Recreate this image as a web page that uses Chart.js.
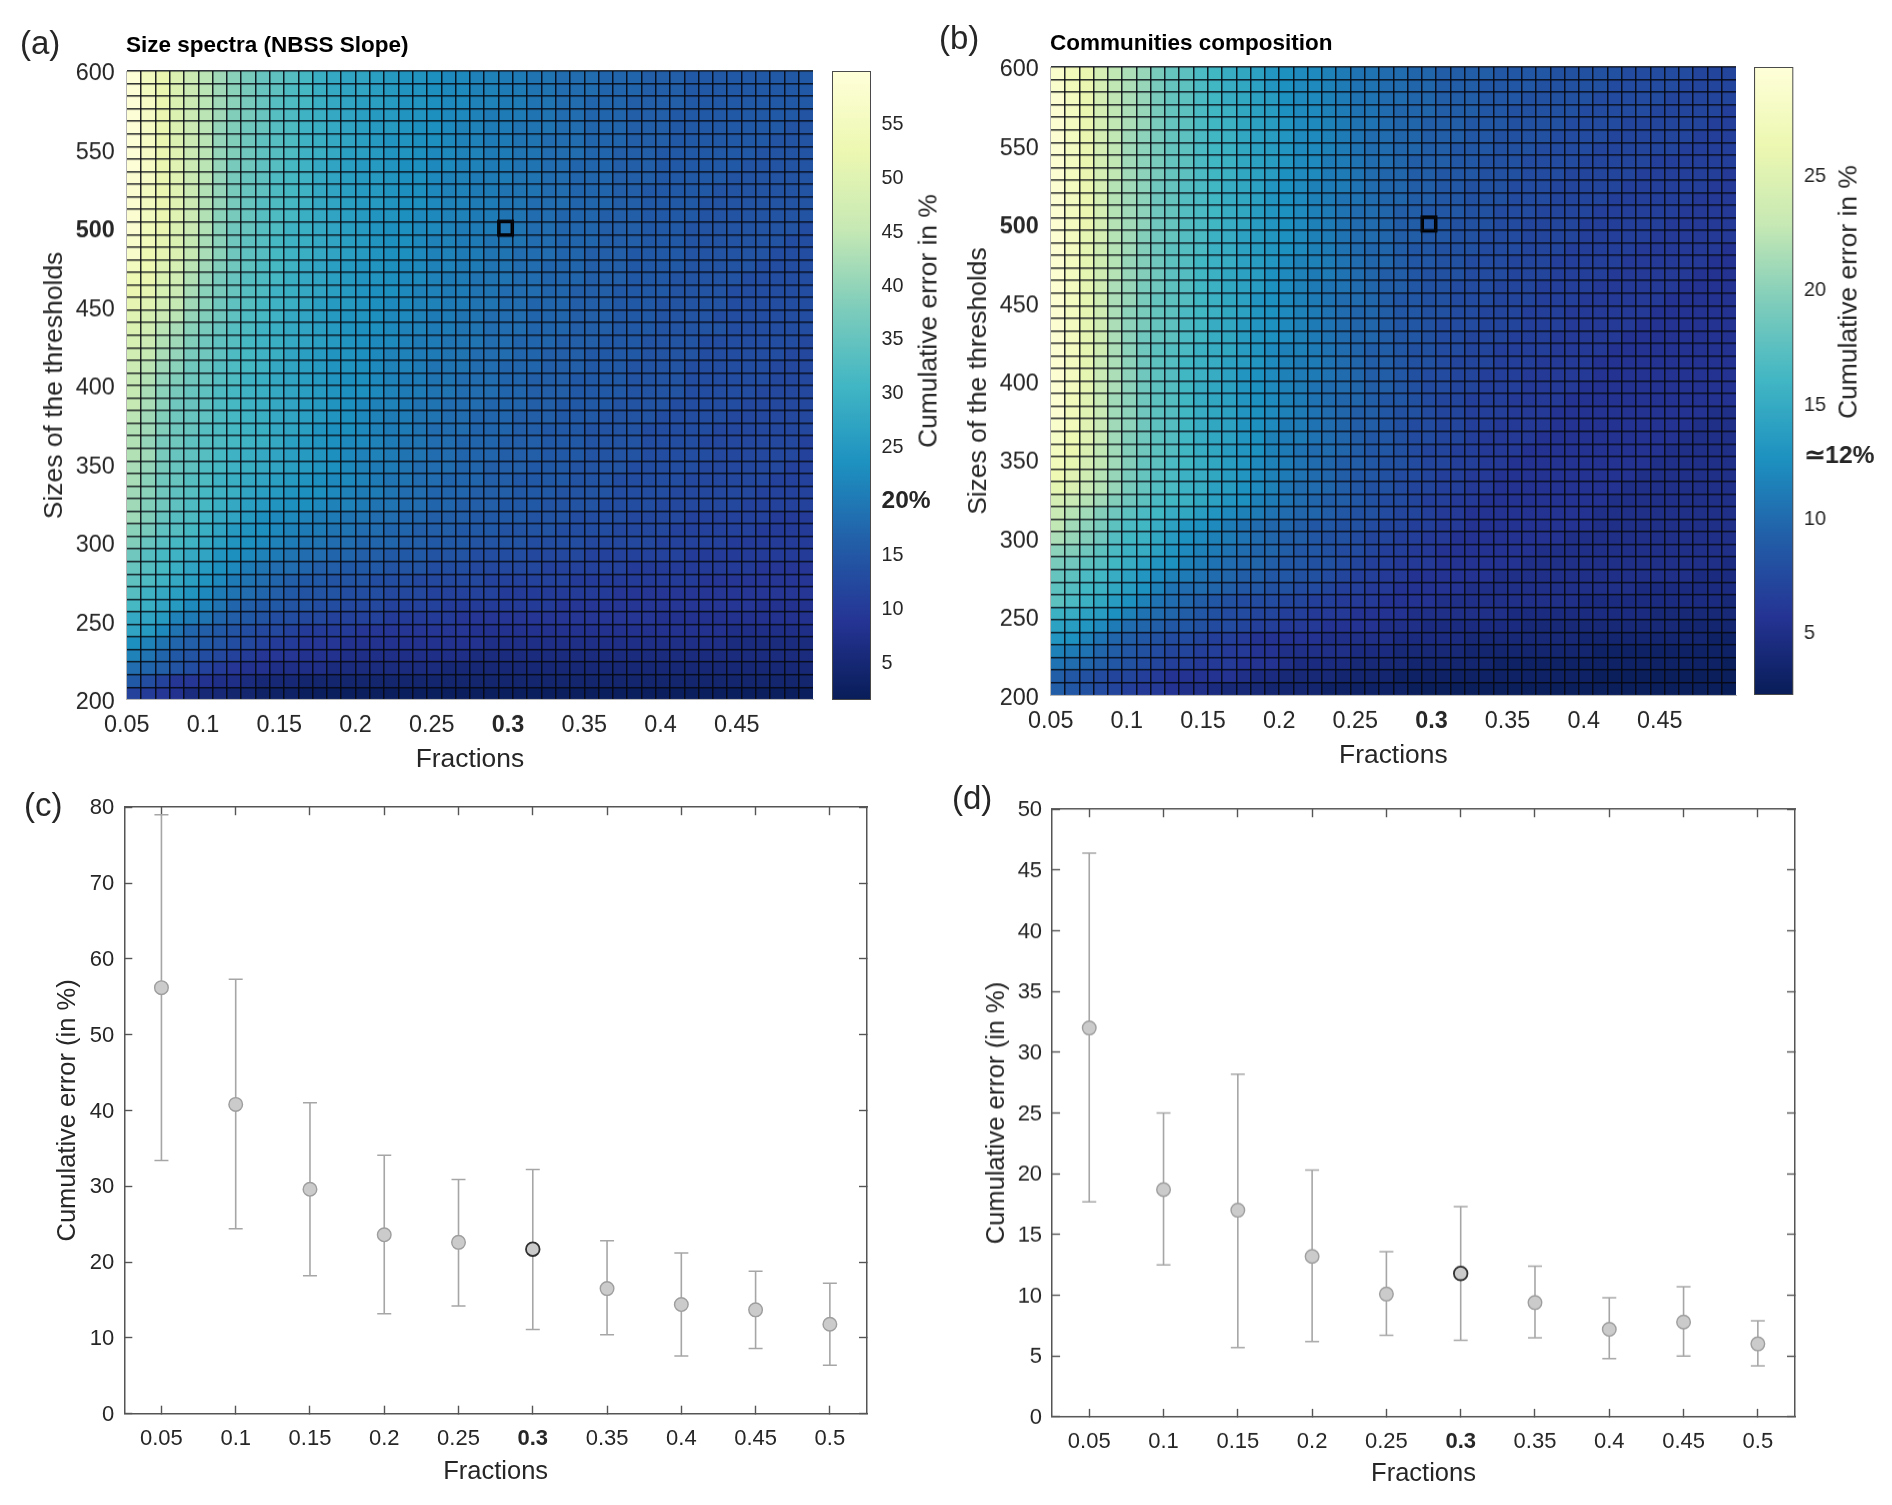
<!DOCTYPE html>
<html>
<head>
<meta charset="utf-8">
<script src="https://cdn.jsdelivr.net/npm/chart.js@4/dist/chart.umd.min.js"></script>
<style>
body { margin: 0; background: #fff; width: 1892px; height: 1505px; position: relative; overflow: hidden; font-family: "Liberation Sans", sans-serif; color: #262626; }
canvas { position: absolute; }
.txt { position: absolute; white-space: nowrap; transform: translate(0, -50%); }
.rot { position: absolute; white-space: nowrap; transform: translate(-50%, -50%) rotate(-90deg); }
</style>
</head>
<body>
<canvas id="heatA"></canvas><canvas id="barA"></canvas>
<canvas id="heatB"></canvas><canvas id="barB"></canvas>
<canvas id="errC"></canvas><canvas id="errD"></canvas>
<script>
// cumulative error in %, one row per threshold cell, top row (600) first
const heatRowsA = [
[59,55,52,49,46,44,41,39, 37,35,34,33,31,29,28,27, 27,26,25,24,24,23,22,22, 21,21,20,20,19,19,18,18, 18,17,17,17,16,16,16,15, 15,15,15,15,15,15,15,15],
[59,55,52,49,46,44,41,39, 37,35,34,32,31,29,28,27, 27,26,25,24,24,23,22,22, 21,21,20,20,19,19,18,18, 18,17,17,17,16,16,16,15, 15,15,15,15,15,15,15,15],
[59,56,52,49,46,44,41,39, 37,35,33,32,31,29,28,27, 26,26,25,24,24,23,22,22, 21,21,20,20,19,19,18,18, 17,17,17,16,16,16,16,15, 15,15,15,15,15,15,15,15],
[59,56,52,49,46,44,41,38, 37,35,33,32,30,29,28,27, 26,25,25,24,24,23,22,22, 21,20,20,20,19,19,18,18, 17,17,17,16,16,16,15,15, 15,15,15,15,15,15,15,14],
[59,56,52,49,46,44,40,38, 36,35,33,32,30,29,28,27, 26,25,25,24,23,23,22,21, 21,20,20,19,19,19,18,18, 17,17,17,16,16,16,15,15, 15,15,15,15,15,15,14,14],
[59,56,52,49,46,44,40,38, 36,34,33,32,30,29,28,27, 26,25,24,24,23,23,22,21, 21,20,20,19,19,18,18,18, 17,17,17,16,16,16,15,15, 15,15,15,15,15,14,14,14],
[59,56,52,50,46,44,40,38, 36,34,33,32,30,29,28,26, 26,25,24,24,23,22,22,21, 21,20,20,19,19,18,18,18, 17,17,16,16,16,15,15,15, 15,15,15,15,14,14,14,14],
[59,56,52,50,46,44,40,37, 36,34,33,31,30,28,27,26, 25,25,24,23,23,22,22,21, 21,20,20,19,19,18,18,17, 17,17,16,16,16,15,15,15, 15,15,15,14,14,14,14,14],
[58,56,52,50,46,44,40,37, 35,34,32,31,30,28,27,26, 25,25,24,23,23,22,21,21, 20,20,20,19,19,18,18,17, 17,17,16,16,16,15,15,15, 15,15,14,14,14,14,14,14],
[58,55,52,50,46,43,40,37, 35,34,32,31,30,28,27,26, 25,25,24,23,23,22,21,21, 20,20,19,19,19,18,18,17, 17,17,16,16,15,15,15,15, 15,14,14,14,14,14,14,14],
[58,55,52,50,46,43,40,37, 35,33,32,31,30,28,27,26, 25,25,24,23,23,22,21,21, 20,20,19,19,18,18,18,17, 17,17,16,16,15,15,15,15, 14,14,14,14,14,14,14,14],
[58,55,52,50,46,43,39,37, 35,33,32,31,29,28,27,26, 25,24,24,23,22,22,21,21, 20,20,19,19,18,18,17,17, 17,16,16,16,15,15,15,15, 14,14,14,14,14,14,14,14],
[58,54,52,49,46,43,39,36, 35,33,32,30,29,28,27,26, 25,24,23,23,22,22,21,20, 20,20,19,19,18,18,17,17, 17,16,16,16,15,15,15,14, 14,14,14,14,14,14,14,13],
[57,54,51,49,45,42,39,36, 34,33,31,30,29,28,27,26, 25,24,23,23,22,21,21,20, 20,19,19,19,18,18,17,17, 17,16,16,16,15,15,15,14, 14,14,14,14,14,14,13,13],
[57,53,51,49,45,42,39,36, 34,33,31,30,29,28,27,26, 25,24,23,23,22,21,21,20, 20,19,19,18,18,18,17,17, 16,16,16,15,15,15,15,14, 14,14,14,14,14,13,13,13],
[55,53,50,48,44,41,38,36, 34,32,31,30,28,27,26,25, 24,24,23,22,22,21,21,20, 20,19,19,18,18,17,17,17, 16,16,16,15,15,15,15,14, 14,14,14,14,13,13,13,13],
[53,52,49,47,43,40,37,35, 33,32,31,29,28,27,26,25, 24,24,23,22,22,21,20,20, 19,19,19,18,18,17,17,17, 16,16,16,15,15,15,14,14, 14,14,14,13,13,13,13,13],
[52,51,48,46,42,39,37,35, 33,32,30,29,28,27,26,25, 24,23,23,22,21,21,20,20, 19,19,18,18,18,17,17,16, 16,16,15,15,15,15,14,14, 14,14,13,13,13,13,13,13],
[51,50,47,45,41,39,36,34, 33,31,30,29,28,26,25,25, 24,23,22,22,21,21,20,20, 19,19,18,18,17,17,17,16, 16,16,15,15,15,14,14,14, 14,14,13,13,13,13,13,13],
[50,48,46,44,40,38,36,34, 32,31,30,28,27,26,25,24, 24,23,22,22,21,20,20,19, 19,18,18,18,17,17,17,16, 16,16,15,15,15,14,14,14, 14,13,13,13,13,13,13,13],
[49,47,44,42,39,37,35,33, 32,30,29,28,27,26,25,24, 23,23,22,21,21,20,20,19, 19,18,18,18,17,17,17,16, 16,16,15,15,15,14,14,14, 14,14,13,13,13,13,13,13],
[48,46,43,41,38,36,34,33, 31,30,29,28,27,26,25,24, 23,22,22,21,20,20,19,19, 19,18,18,17,17,17,16,16, 16,15,15,15,14,14,14,14, 13,13,13,13,13,13,13,12],
[47,45,42,40,37,36,34,32, 31,30,29,27,26,25,24,24, 23,22,21,21,20,20,19,19, 18,18,18,17,17,16,16,16, 15,15,15,15,14,14,14,14, 13,13,13,13,13,13,12,12],
[46,44,41,39,36,35,33,32, 31,30,28,27,26,25,24,24, 23,22,21,21,20,19,19,19, 18,18,17,17,17,16,16,16, 15,15,15,14,14,14,14,13, 13,13,13,13,13,12,12,12],
[45,43,40,38,36,35,33,32, 30,29,28,27,26,25,24,23, 23,22,21,20,20,19,19,18, 18,18,17,17,16,16,16,15, 15,15,15,14,14,14,14,13, 13,13,13,13,13,12,12,12],
[45,42,39,37,35,34,32,31, 30,29,28,27,26,25,24,23, 23,22,21,20,20,19,19,18, 18,18,17,17,16,16,16,15, 15,15,15,14,14,14,14,13, 13,13,13,13,12,12,12,12],
[45,42,39,36,35,34,32,31, 30,29,28,27,26,25,24,23, 22,21,21,20,19,19,18,18, 18,17,17,17,16,16,15,15, 15,15,14,14,14,14,13,13, 13,13,13,12,12,12,12,12],
[44,41,38,36,35,34,32,31, 30,29,28,27,26,25,24,23, 22,21,20,20,19,19,18,18, 17,17,17,16,16,16,15,15, 15,14,14,14,14,13,13,13, 13,13,12,12,12,12,12,12],
[43,41,38,36,35,33,32,31, 30,29,28,27,26,24,23,23, 22,21,20,20,19,18,18,18, 17,17,17,16,16,15,15,15, 14,14,14,14,13,13,13,13, 13,12,12,12,12,12,12,12],
[43,40,37,36,34,33,32,31, 30,29,28,26,25,24,23,22, 22,21,20,19,19,18,18,17, 17,17,16,16,16,15,15,15, 14,14,14,14,13,13,13,13, 12,12,12,12,12,12,12,11],
[43,41,37,35,34,33,31,30, 29,28,27,26,25,24,23,22, 21,21,20,19,19,18,18,17, 17,17,16,16,16,15,15,15, 14,14,14,14,13,13,13,13, 13,12,12,12,12,12,12,11],
[42,40,37,35,34,32,31,30, 29,28,27,26,25,24,23,22, 21,20,20,19,18,18,18,17, 17,16,16,16,15,15,15,14, 14,14,14,13,13,13,13,13, 12,12,12,12,12,12,11,11],
[42,39,36,35,33,32,30,29, 28,27,26,25,24,23,22,22, 21,20,19,19,18,18,17,17, 17,16,16,15,15,15,15,14, 14,14,13,13,13,13,13,12, 12,12,12,12,12,11,11,11],
[41,39,36,34,33,31,30,29, 27,26,25,24,23,23,22,21, 20,20,19,18,18,17,17,17, 16,16,16,15,15,15,14,14, 14,14,13,13,13,13,12,12, 12,12,12,12,11,11,11,11],
[41,38,36,34,32,31,29,28, 26,25,24,23,23,22,21,21, 20,19,19,18,18,17,17,16, 16,16,15,15,15,14,14,14, 14,13,13,13,13,12,12,12, 12,12,12,11,11,11,11,11],
[41,38,35,33,32,30,28,27, 25,23,22,22,21,20,20,19, 19,18,18,17,17,16,16,16, 15,15,15,15,14,14,14,13, 13,13,13,12,12,12,12,11, 11,11,11,11,11,10,10,10],
[39,37,34,33,31,29,27,25, 24,23,22,21,20,20,19,19, 18,18,17,17,16,16,16,15, 15,15,14,14,14,14,13,13, 13,13,12,12,12,12,11,11, 11,11,11,11,10,10,10,10],
[38,35,33,31,30,28,26,24, 23,22,21,20,19,19,18,18, 17,17,17,16,16,15,15,15, 14,14,14,14,13,13,13,13, 12,12,12,12,12,11,11,11, 11,11,10,10,10,10,10,10],
[36,33,31,30,28,27,24,23, 22,21,20,19,18,18,17,17, 16,16,15,15,15,14,14,14, 13,13,13,13,12,12,12,12, 11,11,11,11,11,11,11,10, 10,10,10,10,10,10,10,10],
[35,33,31,29,27,25,23,22, 20,19,18,18,17,16,16,15, 15,15,14,14,14,13,13,13, 12,12,12,12,12,11,11,11, 11,11,11,10,10,10,10,10, 10,10,10,10,9,9,9,9],
[34,32,30,28,26,24,22,20, 19,18,17,16,15,15,14,14, 14,13,13,13,12,12,12,12, 12,11,11,11,11,11,11,10, 10,10,10,10,10,10,10,10, 9,9,9,9,9,9,9,9],
[33,30,28,26,24,22,20,19, 18,17,16,15,14,14,14,13, 13,13,12,12,12,11,11,11, 11,11,10,10,10,10,10,10, 10,10,9,9,9,9,9,9, 9,9,9,9,9,9,9,9],
[31,29,27,25,22,21,19,17, 16,15,15,14,14,13,13,12, 12,12,11,11,11,11,10,10, 10,10,10,10,10,10,9,9, 9,9,9,9,9,9,9,9, 9,9,9,9,8,8,8,8],
[28,27,25,21,20,19,17,16, 15,14,13,13,12,12,11,11, 11,11,10,10,10,10,10,9, 9,9,9,9,9,9,9,9, 9,9,9,9,9,8,8,8, 8,8,8,8,8,8,8,8],
[27,25,22,19,17,16,15,14, 13,12,12,11,10,10,10,10, 9,9,9,9,9,9,9,9, 8,8,8,8,8,8,8,8, 8,8,8,8,8,8,8,8, 8,8,7,7,7,7,7,7],
[23,21,19,17,16,15,14,13, 12,11,10,10,9,9,9,8, 8,8,8,8,8,8,8,8, 8,7,7,7,7,7,7,7, 7,7,7,7,7,7,7,7, 7,7,6,6,6,6,6,6],
[21,19,17,15,14,13,12,11, 10,9,9,9,8,8,8,7, 7,7,7,7,7,7,7,7, 6,6,6,6,6,6,6,6, 6,6,6,6,6,6,6,6, 6,6,6,6,6,6,6,6],
[18,17,16,14,13,11,10,9, 8,8,7,7,7,7,6,6, 6,6,6,6,6,6,5,5, 5,5,5,5,5,5,5,5, 5,5,5,5,5,5,5,5, 5,5,5,5,5,5,5,5],
[15,13,11,9,9,8,7,7, 6,5,5,5,4,4,4,4, 4,4,4,4,4,4,4,4, 4,4,4,4,4,4,4,4, 4,4,4,4,4,4,4,4, 4,4,4,4,4,4,4,4],
[11,10,9,8,6,5,5,4, 4,3,3,3,2,2,2,2, 2,2,2,2,2,2,2,2, 2,2,2,2,2,2,2,2, 2,2,2,2,2,2,2,2, 2,2,2,2,2,2,2,2]
];
const heatRowsB = [
[28.5,27,26,24,22.5,21.5,20.5,19, 18,17.5,16.5,16,15,14.5,14,13, 12.5,12,12,11.5,11,10.5,10.5,10, 10,9.5,9.5,9,9,9,9,8.5, 8.5,8.5,8.5,8,8,8,8,8, 7.5,7.5,7.5,7.5,7.5,7,7,7],
[28.5,27,26,24,22.5,21.5,20.5,19, 18,17.5,16.5,16,15,14.5,14,13, 12.5,12,12,11.5,11,10.5,10.5,10, 10,9.5,9.5,9,9,9,8.5,8.5, 8.5,8.5,8,8,8,8,8,7.5, 7.5,7.5,7.5,7.5,7,7,7,7],
[29,27.5,26,24,22.5,21.5,20.5,19, 18,17.5,16.5,16,15,14.5,14,13.5, 12.5,12,12,11.5,11,10.5,10.5,10, 10,9.5,9.5,9,9,9,8.5,8.5, 8.5,8,8,8,8,8,7.5,7.5, 7.5,7.5,7.5,7,7,7,7,7],
[29,27.5,26,24,22.5,21.5,20.5,19, 18,17.5,16.5,16,15.5,14.5,14,13.5, 12.5,12,12,11.5,11,10.5,10.5,10, 9.5,9.5,9.5,9,9,9,8.5,8.5, 8,8,8,8,8,7.5,7.5,7.5, 7.5,7.5,7,7,7,7,7,6.5],
[29,27.5,26,24,22.5,21.5,20.5,19, 18,17.5,16.5,16,15.5,14.5,14,13.5, 13,12,12,11.5,11,10.5,10.5,10, 9.5,9.5,9,9,9,8.5,8.5,8.5, 8,8,8,8,7.5,7.5,7.5,7.5, 7,7,7,7,7,7,6.5,6.5],
[29,27.5,26,24,22.5,21,20,19, 18,17.5,16.5,16,15.5,14.5,14,13.5, 13,12,12,11.5,11,10.5,10,10, 9.5,9.5,9,9,9,8.5,8.5,8, 8,8,8,7.5,7.5,7.5,7.5,7, 7,7,7,7,7,6.5,6.5,6.5],
[29,27.5,26,24,22.5,21,20,19, 18,17.5,16.5,16,15.5,14.5,14,13.5, 13,12,12,11.5,11,10.5,10,10, 9.5,9.5,9,9,8.5,8.5,8.5,8, 8,8,7.5,7.5,7.5,7.5,7,7, 7,7,7,7,6.5,6.5,6.5,6.5],
[29,27.5,26,24,22.5,21,20,19, 18,17.5,16.5,16,15.5,14.5,14,13.5, 13,12,12,11,11,10.5,10,10, 9.5,9,9,9,8.5,8.5,8,8, 8,7.5,7.5,7.5,7.5,7,7,7, 7,7,6.5,6.5,6.5,6.5,6.5,6.5],
[29,27.5,26,24,22.5,21,20,19, 18,17.5,16.5,16,15.5,14.5,14,13.5, 12.5,12,12,11,11,10.5,10,9.5, 9.5,9,9,8.5,8.5,8.5,8,8, 8,7.5,7.5,7.5,7,7,7,7, 7,6.5,6.5,6.5,6.5,6.5,6.5,6],
[29,27.5,26,24,22,21,20,18.5, 18,17,16.5,16,15,14.5,14,13, 12.5,12,11.5,11,11,10.5,10,9.5, 9.5,9,9,8.5,8.5,8,8,8, 7.5,7.5,7.5,7,7,7,7,7, 6.5,6.5,6.5,6.5,6.5,6.5,6,6],
[29,27.5,26,24,22,21,20,18.5, 18,17,16.5,16,15,14.5,14,13, 12.5,12,11.5,11,10.5,10.5,10,9.5, 9.5,9,9,8.5,8.5,8,8,8, 7.5,7.5,7.5,7,7,7,7,6.5, 6.5,6.5,6.5,6.5,6.5,6,6,6],
[29,27.5,26,24,22,21,20,18.5, 18,17,16.5,16,15,14.5,13.5,13, 12.5,12,11.5,11,10.5,10,10,9.5, 9,9,8.5,8.5,8.5,8,8,7.5, 7.5,7.5,7,7,7,7,6.5,6.5, 6.5,6.5,6.5,6.5,6,6,6,6],
[29,27.5,26,24,22,21,20,18.5, 18,17,16.5,16,15,14.5,13.5,13, 12.5,12,11.5,11,10.5,10,10,9.5, 9,9,8.5,8.5,8,8,8,7.5, 7.5,7,7,7,7,6.5,6.5,6.5, 6.5,6.5,6.5,6,6,6,6,6],
[29,27.5,25.5,24,22,21,19.5,18.5, 18,17,16.5,15.5,15,14,13.5,13, 12.5,12,11.5,11,10.5,10,10,9.5, 9,9,8.5,8.5,8,8,7.5,7.5, 7.5,7,7,7,7,6.5,6.5,6.5, 6.5,6.5,6,6,6,6,6,6],
[29,27.5,25.5,23.5,22,21,19.5,18.5, 17.5,17,16.5,15.5,15,14,13.5,13, 12.5,12,11.5,11,10.5,10,9.5,9.5, 9,8.5,8.5,8,8,8,7.5,7.5, 7.5,7,7,7,6.5,6.5,6.5,6.5, 6.5,6,6,6,6,6,6,5.5],
[29,27.5,25.5,23.5,22,20.5,19.5,18.5, 17.5,17,16,15.5,15,14,13.5,13, 12,11.5,11.5,11,10.5,10,9.5,9.5, 9,8.5,8.5,8,8,7.5,7.5,7.5, 7,7,7,6.5,6.5,6.5,6.5,6.5, 6,6,6,6,6,6,5.5,5.5],
[29,27.5,25.5,23.5,22,20.5,19.5,18.5, 17.5,17,16,15.5,14.5,14,13.5,12.5, 12,11.5,11,11,10.5,10,9.5,9, 9,8.5,8,8,8,7.5,7.5,7.5, 7,7,7,6.5,6.5,6.5,6.5,6, 6,6,6,6,6,5.5,5.5,5.5],
[29,27.5,25.5,23.5,21.5,20.5,19,18.5, 17.5,17,16,15.5,14.5,14,13.5,12.5, 12,11.5,11,10.5,10.5,10,9.5,9, 9,8.5,8,8,7.5,7.5,7.5,7, 7,7,6.5,6.5,6.5,6.5,6,6, 6,6,6,6,5.5,5.5,5.5,5.5],
[29,27.5,25.5,23.5,21.5,20.5,19,18, 17.5,17,16,15.5,14.5,14,13,12.5, 12,11.5,11,10.5,10,10,9.5,9, 8.5,8.5,8,8,7.5,7.5,7.5,7, 7,7,6.5,6.5,6.5,6,6,6, 6,6,6,5.5,5.5,5.5,5.5,5.5],
[29,27.5,25.5,23.5,21.5,20,19,18, 17.5,16.5,16,15.5,14.5,14,13,12.5, 12,11.5,11,10.5,10,9.5,9.5,9, 8.5,8.5,8,8,7.5,7.5,7,7, 7,6.5,6.5,6.5,6,6,6,6, 6,6,5.5,5.5,5.5,5.5,5.5,5.5],
[29,27.5,25.5,23.5,21.5,20,19,18, 17.5,16.5,16,15,14.5,13.5,13,12.5, 12,11.5,11,10.5,10,9.5,9.5,9, 8.5,8.5,8,7.5,7.5,7.5,7,7, 7,6.5,6.5,6.5,6,6,6,6, 6,5.5,5.5,5.5,5.5,5.5,5.5,5.5],
[29,27.5,25.5,23.5,21.5,20,18.5,18, 17.5,16.5,16,15,14.5,13.5,13,12.5, 12,11.5,11,10.5,10,9.5,9.5,9, 8.5,8.5,8,7.5,7.5,7,7,7, 6.5,6.5,6.5,6,6,6,6,6, 5.5,5.5,5.5,5.5,5.5,5.5,5.5,5.5],
[29,27.5,25.5,23.5,21.5,20,18.5,17.5, 17,16.5,15.5,15,14.5,13.5,13,12, 11.5,11.5,11,10.5,10,9.5,9,9, 8.5,8,8,7.5,7.5,7,7,6.5, 6.5,6.5,6.5,6,6,6,6,5.5, 5.5,5.5,5.5,5.5,5.5,5.5,5.5,5.5],
[29,27.5,25.5,23,21.5,20,18.5,17.5, 17,16,15.5,15,14,13.5,13,12, 11.5,11,11,10.5,10,9.5,9,9, 8.5,8,8,7.5,7,7,7,6.5, 6.5,6.5,6,6,6,6,5.5,5.5, 5.5,5.5,5.5,5.5,5.5,5.5,5.5,5.5],
[29,27.5,25.5,23,21.5,20,18.5,17.5, 17,16,15.5,15,14,13,12.5,12, 11.5,11,11,10.5,10,9.5,9,9, 8.5,8,7.5,7.5,7,7,6.5,6.5, 6.5,6,6,6,6,6,5.5,5.5, 5.5,5.5,5.5,5.5,5.5,5.5,5.5,5.5],
[29,27.5,25.5,23,21.5,20,18.5,17.5, 17,16,15,14.5,14,13,12.5,12, 11.5,11,10.5,10,10,9.5,9,9, 8.5,8,7.5,7.5,7,7,6.5,6.5, 6.5,6,6,6,6,5.5,5.5,5.5, 5.5,5.5,5.5,5.5,5.5,5.5,5.5,5.5],
[29,27,25,23,21,20,18.5,17.5, 17,16,15,14.5,14,13,12.5,12, 11.5,11,10.5,10,9.5,9.5,9,8.5, 8.5,8,7.5,7,7,6.5,6.5,6.5, 6,6,6,6,5.5,5.5,5.5,5.5, 5.5,5.5,5.5,5.5,5.5,5.5,5.5,5.5],
[29,27,25,23,21,20,18.5,17.5, 17,16,15,14.5,14,13,12.5,12, 11.5,11,10.5,10,9.5,9,9,8.5, 8,8,7.5,7,7,6.5,6.5,6.5, 6,6,6,5.5,5.5,5.5,5.5,5.5, 5.5,5.5,5.5,5.5,5.5,5.5,5,5],
[28.5,27,25,23,21,20,18.5,17.5, 17,16,15,14.5,14,13,12.5,12, 11,11,10.5,10,9.5,9,9,8.5, 8,7.5,7.5,7,7,6.5,6.5,6, 6,6,6,5.5,5.5,5.5,5.5,5.5, 5.5,5.5,5.5,5.5,5.5,5,5,5],
[28,26.5,25,23,21,19.5,18.5,17.5, 17,16,15,14.5,14,13,12.5,11.5, 11,11,10.5,10,9.5,9,8.5,8.5, 8,7.5,7.5,7,7,6.5,6,6, 6,6,5.5,5.5,5.5,5.5,5.5,5.5, 5.5,5.5,5.5,5.5,5,5,5,5],
[27.5,26,24.5,22.5,21,19.5,18.5,17.5, 17,16,15,14.5,13.5,13,12.5,11.5, 11,10.5,10,10,9.5,9,8.5,8.5, 8,7.5,7,7,6.5,6.5,6,6, 6,5.5,5.5,5.5,5.5,5.5,5.5,5.5, 5.5,5.5,5.5,5,5,5,5,5],
[27,25.5,24,22.5,21,19.5,18,17.5, 16.5,16,15,14.5,13.5,13,12,11.5, 11,10.5,10,9.5,9,9,8.5,8, 8,7.5,7,7,6.5,6.5,6,6, 5.5,5.5,5.5,5.5,5.5,5.5,5.5,5.5, 5.5,5.5,5,5,5,5,5,5],
[26.5,25,23.5,22,20.5,19,18,17, 16.5,15.5,15,14.5,13.5,13,12,11.5, 11,10.5,10,9.5,9,8.5,8.5,8, 7.5,7.5,7,6.5,6.5,6,6,5.5, 5.5,5.5,5.5,5.5,5.5,5.5,5.5,5.5, 5.5,5,5,5,5,5,5,5],
[25.5,24.5,23,22,20.5,19,18,17, 16.5,15.5,15,14,13.5,12.5,12,11.5, 10.5,10,10,9.5,9,8.5,8,8, 7.5,7,7,6.5,6.5,6,6,5.5, 5.5,5.5,5.5,5.5,5.5,5.5,5.5,5.5, 5,5,5,5,5,5,5,5],
[24,23,22,21,19.5,18.5,17.5,16.5, 16,15.5,14.5,14,13,12.5,11.5,11, 10.5,10,9.5,9,9,8.5,8,7.5, 7.5,7,6.5,6.5,6,6,5.5,5.5, 5.5,5.5,5.5,5.5,5.5,5.5,5.5,5, 5,5,5,5,5,5,5,5],
[23,22,21,19.5,18.5,17.5,16.5,16, 15,14.5,13.5,13,12,11.5,11,10.5, 10,9.5,9.5,9,8.5,8,8,7.5, 7,7,6.5,6,6,5.5,5.5,5.5, 5.5,5.5,5.5,5.5,5.5,5.5,5,5, 5,5,5,5,5,5,5,5],
[22.5,21,20,19,17.5,16.5,16,15, 14,13,12.5,12,11,10.5,10,9.5, 9.5,9,8.5,8.5,8,8,7.5,7, 7,6.5,6.5,6,6,5.5,5.5,5.5, 5.5,5.5,5.5,5.5,5.5,5.5,5,5, 5,5,5,5,5,5,5,5],
[21.5,20.5,19.5,18.5,17,16,15.5,14.5, 13.5,12.5,12,11.5,11,10.5,10,9.5, 9,9,8.5,8,8,7.5,7,7, 6.5,6.5,6,6,5.5,5.5,5.5,5.5, 5.5,5.5,5.5,5.5,5,5,5,5, 5,5,5,5,5,5,5,5],
[20,19.5,18.5,17.5,16.5,15.5,15,14, 13,12,11.5,11,10.5,10,9.5,9.5, 9,8.5,8.5,8,7.5,7.5,7,6.5, 6.5,6,6,5.5,5.5,5.5,5.5,5.5, 5.5,5.5,5,5,5,5,5,5, 5,5,5,5,5,5,5,5],
[19,18.5,17.5,17,16,15,14,13, 12.5,11.5,11,10.5,10,9.5,9.5,9, 8.5,8.5,8,8,7.5,7,6.5,6.5, 6,6,6,5.5,5.5,5.5,5.5,5.5, 5.5,5,5,5,5,5,5,5, 5,5,5,5,5,5,5,4.5],
[18,17.5,16.5,16,15,14,13,12, 11.5,11,10.5,10,9.5,9,9,8.5, 8.5,8,8,7.5,7,6.5,6.5,6, 6,5.5,5.5,5.5,5.5,5.5,5.5,5, 5,5,5,5,5,5,5,5, 5,5,5,5,5,4.5,4.5,4.5],
[17.5,17,16,15.5,14.5,13.5,12.5,11.5, 10.5,10,10,9.5,9,8.5,8.5,8, 8,7.5,7.5,7,6.5,6.5,6,6, 5.5,5.5,5.5,5.5,5.5,5,5,5, 5,5,5,5,5,5,5,5, 5,4.5,4.5,4.5,4.5,4.5,4.5,4.5],
[17.5,16.5,15.5,14.5,13.5,12.5,11.5,10.5, 10,9.5,9,8.5,8,7.5,7.5,7.5, 7,7,6.5,6.5,6,6,6,5.5, 5.5,5.5,5.5,5,5,5,5,5, 5,5,5,5,5,4.5,4.5,4.5, 4.5,4.5,4.5,4.5,4.5,4.5,4.5,4],
[15.5,15,14,13.5,12.5,11.5,10.5,10, 9.5,9,8.5,8,7.5,7.5,7,7, 6.5,6.5,6,6,6,5.5,5.5,5.5, 5.5,5,5,5,5,5,5,5, 4.5,4.5,4.5,4.5,4.5,4.5,4.5,4.5, 4.5,4.5,4,4,4,4,4,4],
[14,13.5,13,12,11,10,9.5,9, 8.5,8.5,8,7.5,7.5,7,6.5,6.5, 6,6,6,5.5,5.5,5.5,5.5,5, 5,5,4.5,4.5,4.5,4.5,4.5,4.5, 4.5,4,4,4,4,4,4,4, 4,4,4,4,3.5,3.5,3.5,3.5],
[13,12.5,11.5,10.5,9.5,9,8.5,8, 7.5,7.5,7,6.5,6.5,6,5.5,5.5, 5.5,5.5,5.5,5,5,5,5,5, 4.5,4.5,4.5,4.5,4.5,4,4,4, 4,4,4,4,4,3.5,3.5,3.5, 3.5,3.5,3.5,3.5,3.5,3.5,3,3],
[11.5,11,10.5,9.5,9,8.5,8,7.5, 7,7,6.5,6.5,6,6,5.5,5.5, 5,5,5,5,5,4.5,4.5,4.5, 4,4,4,4,4,3.5,3.5,3.5, 3.5,3.5,3.5,3.5,3.5,3.5,3,3, 3,3,3,3,3,3,3,3],
[10.5,10,9.5,9,8.5,8,7.5,7, 6.5,6.5,6,6,6,5.5,5.5,5.5, 5,4.5,4.5,4.5,4.5,4,4,4, 4,3.5,3.5,3.5,3.5,3.5,3.5,3, 3,3,3,3,3,3,3,3, 3,3,3,3,3,3,3,2.5],
[9,8.5,8,7.5,7,7,6.5,6, 5.5,5.5,5.5,5.5,5.5,5,4.5,4.5, 4,4,4,4,3.5,3.5,3.5,3.5, 3,3,3,3,3,3,3,3, 3,3,3,3,3,3,2.5,2.5, 2.5,2.5,2.5,2.5,2.5,2.5,2.5,2.5],
[9,8.5,8,7.5,7,6.5,6,6, 5.5,5,5,4.5,4,4,4,3.5, 3.5,3.5,3.5,3,3,3,3,3, 3,2.5,2.5,2.5,2.5,2.5,2.5,2.5, 2.5,2.5,2.5,2.5,2.5,2.5,2.5,2.5, 2.5,2.5,2.5,2.5,2.5,2.5,2.5,2]
];

const heatXTicks = [0.05, 0.1, 0.15, 0.2, 0.25, 0.3, 0.35, 0.4, 0.45];
const heatYTicks = [200, 250, 300, 350, 400, 450, 500, 550, 600];
const cbTicksA = [5, 10, 15, 20, 25, 30, 35, 40, 45, 50, 55];
const cbTicksB = [5, 10, 12.75, 15, 20, 25];
const cbRangeA = [1.3, 59.7];
const cbRangeB = [2.2, 29.65];

const fractions = ['0.05', '0.1', '0.15', '0.2', '0.25', '0.3', '0.35', '0.4', '0.45', '0.5'];
const meanC = [56.2, 40.8, 29.6, 23.6, 22.6, 21.7, 16.5, 14.4, 13.7, 11.8];
const upperC = [79, 57.3, 41, 34.1, 30.9, 32.2, 22.8, 21.2, 18.8, 17.2];
const lowerC = [33.4, 24.4, 18.2, 13.2, 14.2, 11.1, 10.4, 7.6, 8.6, 6.4];
const meanD = [32, 18.7, 17, 13.2, 10.1, 11.8, 9.4, 7.2, 7.8, 6];
const upperD = [46.4, 25, 28.2, 20.3, 13.6, 17.3, 12.4, 9.8, 10.7, 7.9];
const lowerD = [17.7, 12.5, 5.7, 6.2, 6.7, 6.3, 6.5, 4.8, 5, 4.2];
const yTicksC = [0, 10, 20, 30, 40, 50, 60, 70, 80];
const yTicksD = [0, 5, 10, 15, 20, 25, 30, 35, 40, 45, 50];

const ylGnBu = [[8,29,88],[37,52,148],[34,94,168],[29,145,192],[65,182,196],[127,205,187],[199,233,180],[237,248,177],[255,255,217]];
const FONT = '"Liberation Sans", sans-serif';
const INK = '#262626';
const FRAME = '#555555';

function cmap(v, range) {
    let t = (v - range[0]) / (range[1] - range[0]) * (ylGnBu.length - 1);
    t = Math.min(Math.max(t, 0), ylGnBu.length - 1.001);
    const i = Math.floor(t), f = t - i;
    const c = ylGnBu[i].map((a, k) => Math.round(a + (ylGnBu[i + 1][k] - a) * f));
    return `rgb(${c[0]},${c[1]},${c[2]})`;
}

function place(id, left, top, w, h) {
    const cv = document.getElementById(id);
    cv.width = w; cv.height = h;
    cv.style.left = left + 'px'; cv.style.top = top + 'px';
    cv.style.width = w + 'px'; cv.style.height = h + 'px';
    return cv;
}

function setTicks(list) {
    return s => { s.ticks = list.map(v => ({ value: v })); };
}

const baseOpts = { responsive: false, animation: false, events: [], plugins: { legend: { display: false }, tooltip: { enabled: false } } };

function heatChart(id, rows, range, p, markX, markY) {
    const canvasLeft = p.titleX - 15.8;
    const canvasTop = p.top - 31;
    const canvasBottom = p.labelY + 15.8;
    const cv = place(id, canvasLeft, canvasTop, p.right + 30 - canvasLeft, canvasBottom - canvasTop);
    const columns = rows[0].map((_, i) => i);
    const rowEdges = rows.map((_, r) => 600 - 8 * r);
    const colEdges = columns.slice(1);
    const datasets = rows.map((row, r) => ({
        data: row.map(() => [600 - 8 * (r + 1), 600 - 8 * r]),
        backgroundColor: row.map(v => cmap(v, range)),
        borderWidth: 0,
        inflateAmount: 0.4,
        barPercentage: 1,
        categoryPercentage: 1,
        grouped: false
    }));
    // the black square of the chosen cell
    datasets.push({
        type: 'scatter', xAxisID: 'x2', data: [{ x: markX, y: markY }], order: -1, clip: false,
        pointStyle: 'rect', pointRadius: 9.5, borderColor: '#000', backgroundColor: 'transparent', borderWidth: 3.5
    });
    const cellLines = { color: 'rgba(6,8,16,0.88)', lineWidth: 1.5, z: 1, drawTicks: false };
    new Chart(cv, {
        type: 'bar',
        data: { labels: columns, datasets: datasets },
        options: {
            ...baseOpts,
            layout: { padding: { top: 31, right: 30 } },
            scales: {
                x: { display: false, offset: true },
                x2: {
                    type: 'linear', position: 'bottom', min: 0.05, max: 0.5, offset: false,
                    afterBuildTicks: setTicks(heatXTicks),
                    afterFit: s => { s.height = canvasBottom - p.bottom; },
                    grid: { display: false, drawTicks: false, offset: false },
                    border: { color: '#b5b5b5', width: 1, z: 2 },
                    ticks: {
                        color: INK, padding: 12, maxRotation: 0, autoSkip: false,
                        font: c => ({ family: FONT, size: 23.4, weight: c.tick && c.tick.value === 0.3 ? 'bold' : 'normal' }),
                        callback: v => String(v)
                    },
                    title: { display: true, text: 'Fractions', color: INK, padding: 0, font: { family: FONT, size: 26.4 } }
                },
                // cell outlines, one grid line per cell edge
                xEdge: {
                    axis: 'x', type: 'linear', position: 'bottom', min: 0, max: columns.length, offset: false,
                    afterBuildTicks: setTicks(colEdges),
                    afterFit: s => { s.height = 0; },
                    grid: { ...cellLines, offset: false },
                    border: { display: false },
                    ticks: { display: false, autoSkip: false }
                },
                yEdge: {
                    axis: 'y', type: 'linear', position: 'left', min: 200, max: 600,
                    afterBuildTicks: setTicks(rowEdges),
                    afterFit: s => { s.width = 0; },
                    grid: cellLines,
                    border: { display: false },
                    ticks: { display: false, autoSkip: false }
                },
                y: {
                    min: 200, max: 600,
                    afterBuildTicks: setTicks(heatYTicks),
                    afterFit: s => { s.width = p.left - canvasLeft; },
                    grid: { display: false, drawTicks: false },
                    border: { color: '#b5b5b5', width: 1, z: 2 },
                    ticks: {
                        color: INK, padding: 12, labelOffset: 3,
                        font: c => ({ family: FONT, size: 23.4, weight: c.tick && c.tick.value === 500 ? 'bold' : 'normal' })
                    },
                    title: { display: true, text: 'Sizes of the thresholds', color: INK, padding: 0, font: { family: FONT, size: 26.4 } }
                }
            }
        }
    });
}

function colorBar(id, range, ticks, p, boldValue, boldLabel) {
    const cv = place(id, p.left, p.top - 40, p.width + 90, p.bottom - p.top + 80);
    new Chart(cv, {
        type: 'bar',
        data: {
            labels: [''],
            datasets: [{
                data: [range],
                barPercentage: 1, categoryPercentage: 1, inflateAmount: 0,
                borderColor: '#4a4a4a', borderWidth: 1, borderSkipped: false,
                backgroundColor: c => {
                    const a = c.chart.chartArea;
                    if (!a) return '#000';
                    const g = c.chart.ctx.createLinearGradient(0, a.bottom, 0, a.top);
                    ylGnBu.forEach((s, i) => g.addColorStop(i / (ylGnBu.length - 1), `rgb(${s[0]},${s[1]},${s[2]})`));
                    return g;
                }
            }]
        },
        options: {
            ...baseOpts,
            layout: { padding: { top: 40, bottom: 40 } },
            scales: {
                x: { display: false, offset: true },
                y: {
                    position: 'right', min: range[0], max: range[1],
                    afterBuildTicks: setTicks(ticks),
                    afterFit: s => { s.width = 90; },
                    border: { display: false },
                    grid: {
                        drawOnChartArea: false, tickLength: -6, tickWidth: 1.5,
                        tickColor: c => c.tick && c.tick.value === 12.75 ? 'transparent' : '#333'
                    },
                    ticks: {
                        color: INK, padding: 16.5, labelOffset: 3,
                        font: c => c.tick && c.tick.value === boldValue
                            ? { family: FONT, size: 24.5, weight: 'bold' }
                            : { family: FONT, size: 19.8 },
                        callback: v => v === boldValue ? boldLabel : String(v)
                    }
                }
            }
        }
    });
}

function errorChart(id, mean, upper, lower, yMax, yTicks, p) {
    const canvasLeft = p.titleX - 15.3;
    const canvasTop = p.top - 30;
    const canvasBottom = p.labelY + 15.3;
    const cv = place(id, canvasLeft, canvasTop, p.right + 40 - canvasLeft, canvasBottom - canvasTop);
    const capSet = values => ({
        type: 'line', showLine: false, data: values, order: 2,
        pointStyle: 'line', pointRadius: 7, pointBorderColor: '#a6a6a6', pointBorderWidth: 1.5
    });
    const frameAxis = { tickLength: -8, tickColor: FRAME, tickWidth: 1.4, drawOnChartArea: false };
    const tickFont = { family: FONT, size: 22 };
    new Chart(cv, {
        type: 'bar',
        data: {
            labels: fractions,
            datasets: [
                {
                    type: 'line', showLine: false, data: mean, order: 0,
                    pointStyle: 'circle', pointRadius: 6.8, pointBackgroundColor: '#cbcbcb',
                    pointBorderColor: fractions.map(f => f === '0.3' ? '#303030' : '#9e9e9e'),
                    pointBorderWidth: fractions.map(f => f === '0.3' ? 1.8 : 1.4)
                },
                capSet(upper),
                capSet(lower),
                {
                    data: lower.map((l, i) => [l, upper[i]]), order: 3,
                    backgroundColor: '#a6a6a6', barThickness: 1.6, inflateAmount: 0
                }
            ]
        },
        options: {
            ...baseOpts,
            layout: { padding: { top: 30, right: 40 } },
            scales: {
                x: {
                    offset: true, position: 'bottom',
                    afterFit: s => { s.height = canvasBottom - p.bottom; },
                    grid: { ...frameAxis, offset: false },
                    border: { color: FRAME, width: 1.5 },
                    ticks: {
                        color: INK, padding: 20, maxRotation: 0, autoSkip: false,
                        font: c => ({ ...tickFont, weight: c.tick && c.index === 5 ? 'bold' : 'normal' })
                    },
                    title: { display: true, text: 'Fractions', color: INK, padding: 0, font: { family: FONT, size: 25.5 } }
                },
                x2: {
                    type: 'category', offset: true, position: 'top',
                    afterFit: s => { s.height = 0; },
                    grid: { ...frameAxis, offset: false },
                    border: { color: FRAME, width: 1.5 },
                    ticks: { display: false }
                },
                y: {
                    min: 0, max: yMax,
                    afterBuildTicks: setTicks(yTicks),
                    afterFit: s => { s.width = p.left - canvasLeft; },
                    grid: frameAxis,
                    border: { color: FRAME, width: 1.5 },
                    ticks: { color: INK, padding: 18, labelOffset: 1, font: tickFont },
                    title: { display: true, text: 'Cumulative error (in %)', color: INK, padding: 0, font: { family: FONT, size: 25.5 } }
                },
                y2: {
                    position: 'right', min: 0, max: yMax,
                    afterBuildTicks: setTicks(yTicks),
                    afterFit: s => { s.width = 0; },
                    grid: frameAxis,
                    border: { color: FRAME, width: 1.5 },
                    ticks: { display: false }
                }
            }
        }
    });
}

function addText(text, x, y, size, bold) {
    const d = document.createElement('div');
    d.className = 'txt';
    d.textContent = text;
    d.style.left = x + 'px'; d.style.top = y + 'px'; d.style.fontSize = size + 'px';
    if (bold) { d.style.fontWeight = 'bold'; d.style.color = '#000'; }
    document.body.appendChild(d);
}

function addRotated(text, x, y, size) {
    const d = document.createElement('div');
    d.className = 'rot';
    d.textContent = text;
    d.style.left = x + 'px'; d.style.top = y + 'px'; d.style.fontSize = size + 'px';
    document.body.appendChild(d);
}

heatChart('heatA', heatRowsA, cbRangeA, { left: 126.7, right: 813, top: 71, bottom: 699.7, titleX: 54.7, labelY: 760 }, 0.2984, 500);
heatChart('heatB', heatRowsB, cbRangeB, { left: 1050.4, right: 1736, top: 67, bottom: 695, titleX: 978.5, labelY: 756 }, 0.2984, 500);
colorBar('barA', cbRangeA, cbTicksA, { left: 832, width: 39, top: 71, bottom: 700 }, 20, '20%');
colorBar('barB', cbRangeB, cbTicksB, { left: 1754, width: 39.5, top: 67, bottom: 695 }, 12.75, '\u224312%');
errorChart('errC', meanC, upperC, lowerC, 80, yTicksC, { left: 124, right: 866.7, top: 806, bottom: 1414, titleX: 68, labelY: 1472 });
errorChart('errD', meanD, upperD, lowerD, 50, yTicksD, { left: 1052.3, right: 1795.3, top: 808.3, bottom: 1416.7, titleX: 997.5, labelY: 1473.5 });

addText('(a)', 20, 43, 33);
addText('(b)', 939, 38, 33);
addText('(c)', 24, 805, 33);
addText('(d)', 952, 798, 33);
addText('Size spectra (NBSS Slope)', 126, 45, 22.5, true);
addText('Communities composition', 1050, 43, 22.5, true);
addRotated('Cumulative error in %', 928, 321, 26.4);
addRotated('Cumulative error in %', 1848, 292, 26.4);
</script>
</body>
</html>
